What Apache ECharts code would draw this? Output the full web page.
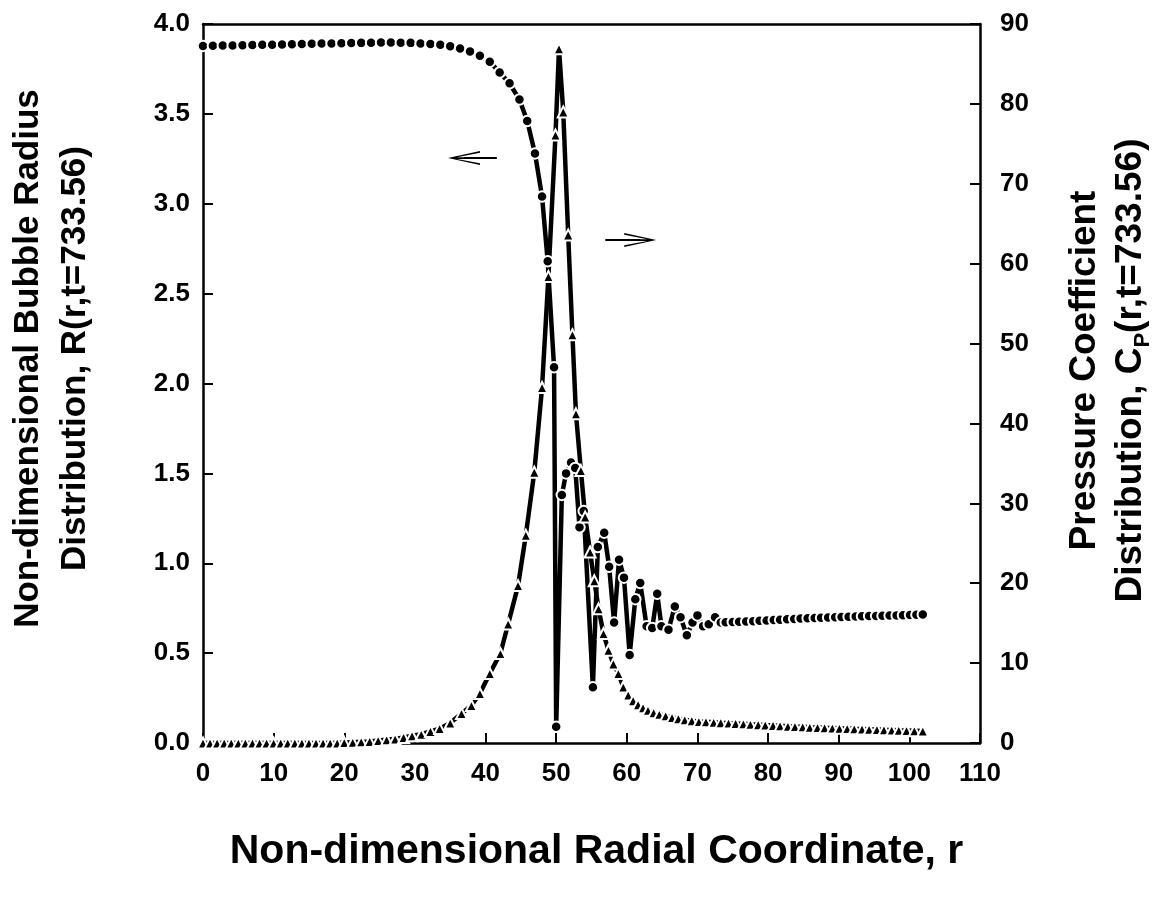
<!DOCTYPE html>
<html>
<head>
<meta charset="utf-8">
<script src="https://cdn.jsdelivr.net/npm/echarts@6/dist/echarts.min.js"></script>
<style>
html,body{margin:0;padding:0;background:#fff;}
#chart{width:1158px;height:899px;}
</style>
</head>
<body>
<div id="chart"></div>
<script>
// ---- Data ----
// Bubble radius R (circles, left axis)
const rX = [0,1.4,2.8,4.2,5.6,7.0,8.4,9.8,11.2,12.6,14.0,15.4,16.8,18.2,19.6,21.0,22.4,23.8,25.2,26.6,28.0,29.4,30.8,32.2,33.6,35.0,36.4,37.8,39.2,40.6,
  42.0,43.4,44.8,45.9,47.0,48.0,48.8,49.7,50.0,50.8,51.4,52.1,52.7,53.3,53.9,55.2,55.9,56.8,57.5,58.2,58.9,59.6,60.4,61.2,61.9,62.8,63.6,64.3,64.9,65.9,66.8,67.6,68.5,69.3,70.0,70.8,71.6,72.5,73.3,
  74.0,75.0,75.9,76.9,77.9,78.8,79.8,80.8,81.7,82.7,83.7,84.6,85.6,86.6,87.5,88.5,89.5,90.4,91.4,92.4,93.3,94.3,95.3,96.2,97.2,98.2,99.1,100.1,101.0,101.9];
const rY = [3.878,3.879,3.880,3.881,3.882,3.883,3.884,3.885,3.886,3.887,3.889,3.890,3.891,3.892,3.893,3.894,3.895,3.896,3.897,3.897,3.896,3.895,3.892,3.889,3.884,3.876,3.864,3.847,3.823,3.790,
  3.73,3.67,3.58,3.46,3.28,3.04,2.68,2.09,0.09,1.38,1.50,1.56,1.53,1.20,1.29,0.31,1.09,1.17,0.98,0.67,1.02,0.92,0.49,0.80,0.89,0.65,0.64,0.83,0.65,0.63,0.76,0.70,0.60,0.67,0.71,0.65,0.66,0.70,0.67,
  0.672,0.673,0.675,0.676,0.678,0.680,0.682,0.684,0.686,0.688,0.690,0.692,0.694,0.695,0.697,0.698,0.700,0.701,0.702,0.704,0.705,0.706,0.707,0.708,0.709,0.710,0.711,0.712,0.714,0.715];

// Pressure coefficient Cp (triangles, right axis)
const cpX = [0,1,2,3,4,5,6,7,8,9,10,11,12,13,14,15,16,17,18,19,20,
  21.2,22.4,23.6,24.8,26.0,27.2,28.4,29.6,30.9,32.2,33.5,35.0,36.6,38.0,39.2,40.6,42.1,43.2,44.6,45.7,46.9,48.0,48.9,49.9,50.4,51.0,51.7,52.3,52.8,53.5,54.1,54.8,55.4,56.0,56.7,57.4,58.1,58.8,59.5,
  60.2,60.9,61.6,62.3,63.0,63.8,64.6,65.5,66.4,67.3,68.2,69.2,70.2,71.2,72.3,73.3,74.4,75.4,76.5,77.5,78.6,79.6,80.7,81.7,82.8,83.8,84.9,85.9,87.0,88.0,89.1,90.1,91.2,92.2,93.3,94.3,95.4,96.4,97.5,98.5,99.6,100.7,101.9];
const cpY = [0,0,0,0,0,0,0,0,0,0,0,0,0,0,0,0,0,0,0,0,0.05,
  0.1,0.15,0.2,0.3,0.4,0.5,0.7,0.9,1.1,1.45,1.8,2.5,3.7,4.7,6.2,8.7,11.2,14.9,19.7,26.0,33.9,44.5,58.4,76.1,86.9,79.0,63.6,51.1,41.2,34.1,28.3,23.9,20.3,16.8,13.7,11.6,9.9,8.7,7.0,
  6.0,5.3,4.8,4.4,4.1,3.8,3.6,3.4,3.2,3.05,2.9,2.8,2.7,2.65,2.6,2.55,2.5,2.45,2.4,2.35,2.3,2.25,2.2,2.15,2.1,2.06,2.02,1.98,1.94,1.9,1.87,1.84,1.81,1.78,1.75,1.72,1.69,1.66,1.63,1.60,1.57,1.54,1.5];

// Annotation arrows: [tail, head-centre] in (r, R) data coordinates
const arrowLeft = [[41.6, 3.254], [36.95, 3.254]];
const arrowRight = [[56.95, 2.798], [61.9, 2.798]];

// Axis ticks
const xTicks = {min: 0, max: 110, interval: 10};
const yLeftTicks = {min: 0, max: 4, interval: 0.5};
const yRightTicks = {min: 0, max: 90, interval: 10};

// ---- Chart ----
const FONT = "'Liberation Sans', Arial, sans-serif";
const rData = rX.map((x, i) => [x, rY[i]]);
const cpData = cpX.map((x, i) => [x, cpY[i]]);
const headPath = 'path://M8,0 L16,32 L14,32 L9,9 L9,32 L7,32 L7,9 L2,32 L0,32 Z';

const chart = echarts.init(document.getElementById('chart'), null, {renderer: 'canvas'});
const axisLine = {show: true, onZero: false, lineStyle: {color: '#000', width: 2.5}};
const tick = {show: true, inside: true, length: 10, lineStyle: {color: '#000', width: 2}};
const tickLabel = {color: '#000', fontFamily: FONT, fontWeight: 'bold', fontSize: 26};

chart.setOption({
  animation: false,
  backgroundColor: '#fff',
  grid: {left: 203, right: 178, top: 24, bottom: 156, containLabel: false, outerBoundsMode: 'none'},
  xAxis: [{
    type: 'value', min: xTicks.min, max: xTicks.max, interval: xTicks.interval,
    axisLine: axisLine, axisTick: tick, splitLine: {show: false},
    axisLabel: Object.assign({margin: 18}, tickLabel),
    name: 'Non-dimensional Radial Coordinate, r',
    nameLocation: 'middle', nameGap: 86, nameMoveOverlap: false,
    nameTextStyle: {color: '#000', fontFamily: FONT, fontWeight: 'bold', fontSize: 41, lineHeight: 46, padding: [0, 0, 0, 10]}
  }, {
    type: 'value', position: 'top', min: xTicks.min, max: xTicks.max, interval: xTicks.interval,
    axisLine: axisLine, axisTick: {show: false}, axisLabel: {show: false}, splitLine: {show: false}
  }],
  yAxis: [{
    type: 'value', position: 'left', min: yLeftTicks.min, max: yLeftTicks.max, interval: yLeftTicks.interval,
    axisLine: axisLine, axisTick: tick, splitLine: {show: false},
    axisLabel: Object.assign({margin: 13, formatter: v => v.toFixed(1)}, tickLabel),
    name: 'Non-dimensional Bubble Radius\nDistribution, R(r,t=733.56)',
    nameLocation: 'middle', nameRotate: 90, nameGap: 104, nameMoveOverlap: false,
    nameTextStyle: {color: '#000', fontFamily: FONT, fontWeight: 'bold', fontSize: 35, lineHeight: 47, padding: [0, 0, 0, 50]}
  }, {
    type: 'value', position: 'right', min: yRightTicks.min, max: yRightTicks.max, interval: yRightTicks.interval,
    axisLine: axisLine, axisTick: tick, splitLine: {show: false},
    axisLabel: Object.assign({margin: 20}, tickLabel),
    name: '{a|Pressure Coefficient}\n{a|Distribution, C}{s|P}{a|(r,t=733.56)}',
    nameLocation: 'middle', nameRotate: 90, nameGap: 82, nameMoveOverlap: false,
    nameTextStyle: {
      color: '#000', fontFamily: FONT, fontWeight: 'bold', fontSize: 36, lineHeight: 46, padding: [0, 0, 0, 26],
      rich: {
        a: {color: '#000', fontFamily: FONT, fontWeight: 'bold', fontSize: 37, lineHeight: 46},
        s: {color: '#000', fontFamily: FONT, fontWeight: 'bold', fontSize: 22, lineHeight: 46, verticalAlign: 'bottom', padding: [8, 0, 0, 0]}
      }
    }
  }],
  series: [{
    name: 'R', type: 'line', xAxisIndex: 0, yAxisIndex: 0, data: rData,
    symbol: 'circle', symbolSize: 10.5, showSymbol: true,
    lineStyle: {color: '#000', width: 4.5},
    itemStyle: {color: '#000', borderColor: '#fff', borderWidth: 2},
    emphasis: {disabled: true},
    markLine: {
      silent: true, animation: false,
      symbol: ['none', headPath], symbolSize: [14, 32],
      label: {show: false},
      lineStyle: {color: '#000', width: 2, type: 'solid'},
      data: [
        [{coord: arrowLeft[0]}, {coord: arrowLeft[1]}],
        [{coord: arrowRight[0]}, {coord: arrowRight[1]}]
      ]
    }
  }, {
    name: 'Cp', type: 'line', xAxisIndex: 0, yAxisIndex: 1, data: cpData,
    symbol: 'triangle', symbolSize: 11, showSymbol: true,
    lineStyle: {color: '#000', width: 4.5},
    itemStyle: {color: '#000', borderColor: '#fff', borderWidth: 2},
    emphasis: {disabled: true}
  }]
});
</script>
</body>
</html>
